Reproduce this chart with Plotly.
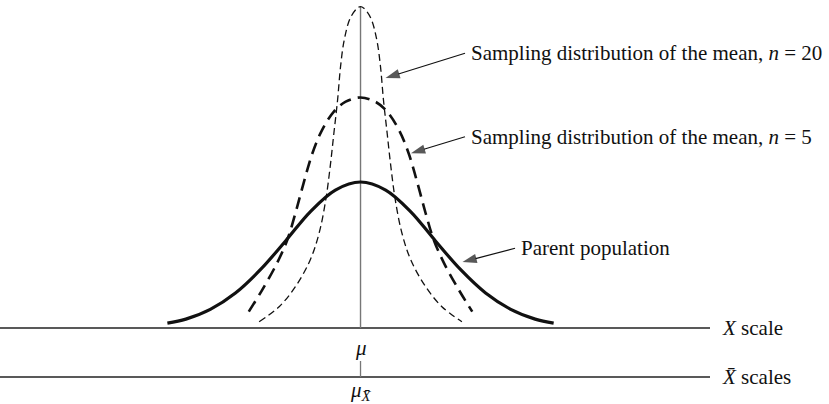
import plotly.graph_objects as go

# ---- data (x in parent-σ units from μ, y in units of parent peak height) ----
parent_x = [-2.61, -2.36, -2.03, -1.69, -1.35, -1.01, -0.68, -0.34, 0.0,
            0.34, 0.68, 1.01, 1.35, 1.69, 2.03, 2.36, 2.61]
parent_y = [0.033, 0.061, 0.128, 0.240, 0.401, 0.598, 0.796, 0.945, 1.0,
            0.945, 0.796, 0.598, 0.401, 0.240, 0.128, 0.061, 0.033]

n5_x = [-1.51, -1.33, -1.13, -0.99, -0.88, -0.77, -0.65, -0.52, -0.36, -0.20, 0.0,
        0.20, 0.36, 0.52, 0.65, 0.77, 0.88, 0.99, 1.13, 1.33, 1.51]
n5_y = [0.112, 0.260, 0.443, 0.603, 0.786, 0.991, 1.197, 1.356, 1.482, 1.550, 1.579,
        1.550, 1.482, 1.356, 1.197, 0.991, 0.786, 0.603, 0.443, 0.260, 0.112]

n20_x = [-1.37, -1.10, -0.88, -0.68, -0.56, -0.47, -0.41, -0.36, -0.31, -0.27, -0.22, -0.14, -0.045, 0.0,
         0.045, 0.14, 0.22, 0.27, 0.31, 0.36, 0.41, 0.47, 0.56, 0.68, 0.88, 1.10, 1.37]
n20_y = [0.043, 0.146, 0.283, 0.466, 0.649, 0.877, 1.105, 1.334, 1.562, 1.790, 1.973, 2.121, 2.190, 2.201,
         2.190, 2.121, 1.973, 1.790, 1.562, 1.334, 1.105, 0.877, 0.649, 0.466, 0.283, 0.146, 0.043]

labels = ["Sampling distribution of the mean, <i>n</i> = 20",
          "Sampling distribution of the mean, <i>n</i> = 5",
          "Parent population"]
label_pos = [(1.463, 1.882), (1.463, 1.310), (2.147, 0.546)]
arrow_tail = [(1.412, 1.882), (1.412, 1.310), (2.088, 0.546)]
arrow_tip = [(0.338, 1.712), (0.682, 1.197), (1.378, 0.452)]

scale_labels = ["<i>X</i> scale", "<i>X\u0304</i> scales"]
tick_labels = ["<i>μ</i>", "<i>μ</i><sub><i>X\u0304</i></sub>"]

# ---- layout constants ----
X_RANGE = [-4.872, 6.331]
Y_RANGE = [-0.5205, 2.2466]
X_LINE_END = 4.723
XBAR_Y = -0.336
XBAR_TICK_TOP = -0.226
FONT = "Liberation Serif"
FS = 21

fig = go.Figure()

# axis lines
fig.add_trace(go.Scatter(x=[X_RANGE[0], X_LINE_END], y=[0, 0], mode="lines",
                         line=dict(color="#222", width=1.4), hoverinfo="skip"))
fig.add_trace(go.Scatter(x=[X_RANGE[0], X_LINE_END], y=[XBAR_Y, XBAR_Y], mode="lines",
                         line=dict(color="#222", width=1.4), hoverinfo="skip"))
fig.add_trace(go.Scatter(x=[0, 0], y=[XBAR_TICK_TOP, XBAR_Y], mode="lines",
                         line=dict(color="#777", width=1.3), hoverinfo="skip"))
# central μ line
fig.add_trace(go.Scatter(x=[0, 0], y=[0, max(n20_y)], mode="lines",
                         line=dict(color="#777", width=1.4), hoverinfo="skip"))

# curves
fig.add_trace(go.Scatter(x=parent_x, y=parent_y, mode="lines",
                         line=dict(color="#111", width=3.2, shape="spline", smoothing=1.0)))
fig.add_trace(go.Scatter(x=n5_x, y=n5_y, mode="lines",
                         line=dict(color="#111", width=2.6, dash="12px,7px", shape="spline", smoothing=1.0)))
fig.add_trace(go.Scatter(x=n20_x, y=n20_y, mode="lines",
                         line=dict(color="#111", width=1.3, dash="7px,4px", shape="spline", smoothing=1.0)))

# arrows (line + arrow marker at the tip)
for (tx, ty), (hx, hy) in zip(arrow_tail, arrow_tip):
    fig.add_trace(go.Scatter(x=[tx, hx], y=[ty, hy], mode="lines+markers",
                             line=dict(color="#111", width=1.2),
                             marker=dict(symbol="arrow", size=[0, 15], angleref="previous",
                                         color="#111", line=dict(width=0)),
                             hoverinfo="skip"))

ann = []
for txt, (lx, ly) in zip(labels, label_pos):
    ann.append(dict(x=lx, y=ly, xref="x", yref="y", text=txt, showarrow=False,
                    xanchor="left", yanchor="middle",
                    font=dict(family=FONT, size=FS, color="#111")))
for txt, yy in zip(scale_labels, [0, XBAR_Y]):
    ann.append(dict(x=X_LINE_END + 0.13, y=yy, xref="x", yref="y", text=txt, showarrow=False,
                    xanchor="left", yanchor="middle",
                    font=dict(family=FONT, size=FS, color="#111")))
for txt, yy in zip(tick_labels, [-0.135, -0.43]):
    ann.append(dict(x=0, y=yy, xref="x", yref="y", text=txt, showarrow=False,
                    xanchor="center", yanchor="middle",
                    font=dict(family=FONT, size=FS, color="#111")))

fig.update_layout(
    width=829, height=404,
    margin=dict(l=0, r=0, t=0, b=0),
    paper_bgcolor="white", plot_bgcolor="white",
    showlegend=False,
    xaxis=dict(range=X_RANGE, visible=False, fixedrange=True),
    yaxis=dict(range=Y_RANGE, visible=False, fixedrange=True),
    annotations=ann,
)

fig.write_html("out.html", config={"displayModeBar": False},
               post_script="document.body.style.margin='0';document.body.style.overflow='hidden';")
